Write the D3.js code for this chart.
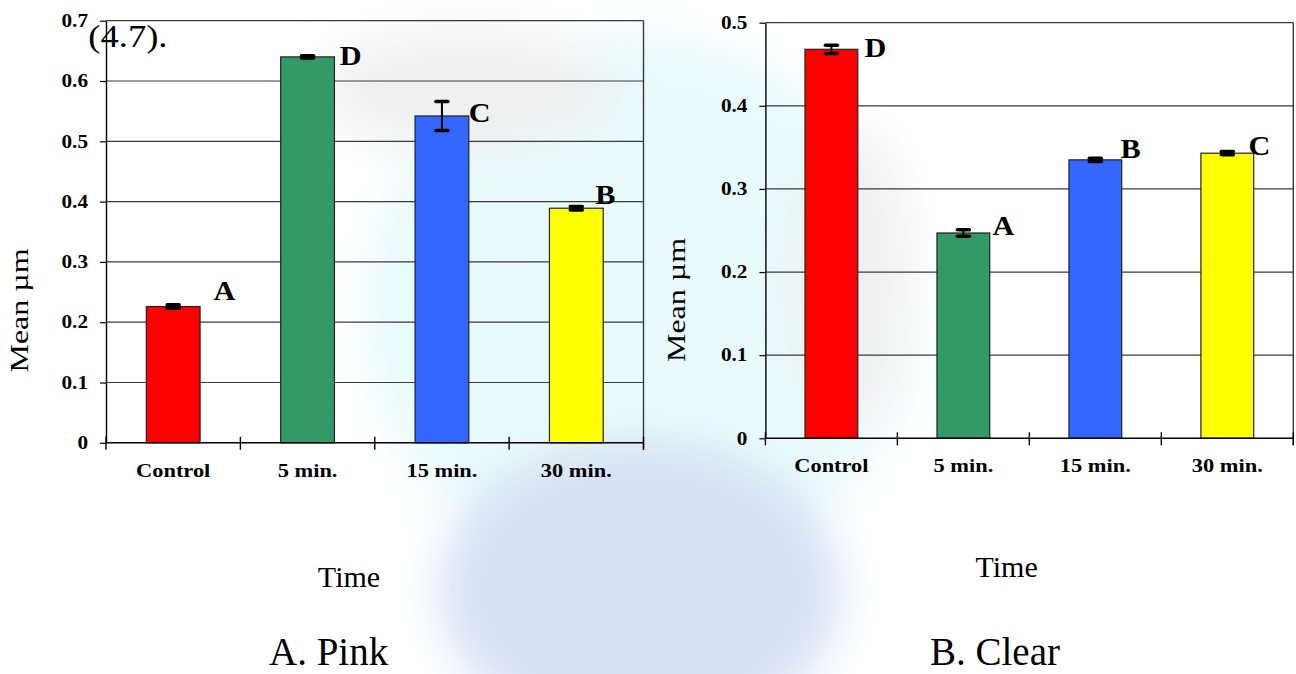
<!DOCTYPE html>
<html>
<head>
<meta charset="utf-8">
<script src="https://cdn.jsdelivr.net/npm/d3@7"></script>
<style>
body { margin: 0; background: #fff; }
svg { display: block; font-family: "Liberation Serif", "Times New Roman", serif; }
</style>
</head>
<body>
<script>
var categories = ["Control", "5 min.", "15 min.", "30 min."];
var barColors = ["#ff0000", "#339966", "#3366ff", "#ffff00"];

// A. Pink
var pinkMeans = [0.226, 0.640, 0.542, 0.389];
var pinkErrors = [0.003, 0.002, 0.024, 0.003];
var pinkLetters = ["A", "D", "C", "B"];
var pinkLetterX = [0.80, 1.74, 2.70, 3.64];   // category units
var pinkLetterY = [0.237, 0.627, 0.532, 0.396];
var pinkTicks = [0, 0.1, 0.2, 0.3, 0.4, 0.5, 0.6, 0.7];

// B. Clear
var clearMeans = [0.468, 0.247, 0.335, 0.343];
var clearErrors = [0.005, 0.004, 0.002, 0.002];
var clearLetters = ["D", "A", "B", "C"];
var clearLetterX = [0.75, 1.72, 2.69, 3.66];
var clearLetterY = [0.459, 0.245, 0.337, 0.341];
var clearTicks = [0, 0.1, 0.2, 0.3, 0.4, 0.5];

var stretch = 1.18;

var svg = d3.select("body").append("svg")
    .attr("width", 1296)
    .attr("height", 674);

// faint watermark behind the charts
var defs = svg.append("defs");
defs.append("filter").attr("id", "soft")
    .attr("x", "-50%").attr("y", "-50%").attr("width", "200%").attr("height", "200%")
    .append("feGaussianBlur").attr("stdDeviation", 22);

var wm = svg.append("g").attr("filter", "url(#soft)");
wm.append("ellipse").attr("cx", 640).attr("cy", 310).attr("rx", 270).attr("ry", 270)
    .attr("fill", "#e8fafb");
wm.append("ellipse").attr("cx", 640).attr("cy", 590).attr("rx", 200).attr("ry", 150)
    .attr("fill", "#d8e0f4");
wm.append("ellipse").attr("cx", 470).attr("cy", 90).attr("rx", 150).attr("ry", 60)
    .attr("fill", "#f0f0f0");
wm.append("ellipse").attr("cx", 850).attr("cy", 280).attr("rx", 60).attr("ry", 150)
    .attr("fill", "#f0f0f0");

function panel(o) {
    var g = svg.append("g");

    var x = d3.scaleBand()
        .domain(categories)
        .range([o.left, o.right])
        .paddingInner(0.6)
        .paddingOuter(0.3);
    var xc = d3.scaleLinear()
        .domain([0, categories.length])
        .range([o.left, o.right]);
    var y = d3.scaleLinear()
        .domain([0, d3.max(o.ticks)])
        .range([o.bottom, o.top]);

    // gridlines
    g.selectAll("line.grid")
        .data(o.ticks.filter(function (d) { return d > 0; }))
        .join("line")
        .attr("class", "grid")
        .attr("x1", o.left)
        .attr("x2", o.right)
        .attr("y1", function (d) { return y(d); })
        .attr("y2", function (d) { return y(d); })
        .attr("stroke", "#3a3a3a")
        .attr("stroke-width", 1.2);

    // right border
    g.append("line")
        .attr("x1", o.right).attr("x2", o.right)
        .attr("y1", o.top).attr("y2", o.bottom + 7)
        .attr("stroke", "#3a3a3a")
        .attr("stroke-width", 1.4);

    // bars
    g.selectAll("rect.bar")
        .data(o.means)
        .join("rect")
        .attr("class", "bar")
        .attr("x", function (d, i) { return x(categories[i]); })
        .attr("y", function (d) { return y(d); })
        .attr("width", x.bandwidth())
        .attr("height", function (d) { return o.bottom - y(d); })
        .attr("fill", function (d, i) { return barColors[i]; })
        .attr("stroke", "#222")
        .attr("stroke-width", 1.2);

    // error bars
    var eb = g.selectAll("g.err")
        .data(o.means)
        .join("g")
        .attr("class", "err")
        .attr("transform", function (d, i) {
            return "translate(" + (x(categories[i]) + x.bandwidth() / 2) + ",0)";
        });
    eb.append("line")
        .attr("y1", function (d, i) { return y(d + o.errors[i]); })
        .attr("y2", function (d, i) { return y(d - o.errors[i]); })
        .attr("stroke", "#000")
        .attr("stroke-width", 2);
    [1, -1].forEach(function (s) {
        eb.append("line")
            .attr("x1", -6).attr("x2", 6)
            .attr("y1", function (d, i) { return y(d + s * o.errors[i]); })
            .attr("y2", function (d, i) { return y(d + s * o.errors[i]); })
            .attr("stroke", "#000")
            .attr("stroke-width", 3.5)
            .attr("stroke-linecap", "round");
    });

    // y axis
    var ya = g.append("g")
        .attr("transform", "translate(" + o.left + ",0)")
        .call(d3.axisLeft(y)
            .tickValues(o.ticks)
            .tickSize(6)
            .tickSizeOuter(0)
            .tickFormat(function (d) { return d === 0 ? "0" : d3.format(".1f")(d); }));
    ya.attr("font-family", null).attr("font-size", null);
    ya.select(".domain").attr("stroke", "#000").attr("stroke-width", 1.4);
    ya.selectAll(".tick line").attr("stroke", "#000").attr("stroke-width", 1.2);
    ya.selectAll(".tick text")
        .attr("x", -18 / stretch)
        .attr("transform", "scale(" + stretch + ",1)")
        .attr("font-size", 18)
        .attr("font-weight", "bold")
        .attr("fill", "#000");

    // x axis line and category ticks
    g.append("line")
        .attr("x1", o.left).attr("x2", o.right)
        .attr("y1", o.bottom).attr("y2", o.bottom)
        .attr("stroke", "#000")
        .attr("stroke-width", 1.4);
    g.selectAll("line.xtick")
        .data(d3.range(categories.length + 1))
        .join("line")
        .attr("class", "xtick")
        .attr("x1", function (d) { return xc(d); })
        .attr("x2", function (d) { return xc(d); })
        .attr("y1", o.bottom - 6)
        .attr("y2", o.bottom + 7)
        .attr("stroke", "#000")
        .attr("stroke-width", 1.4);

    g.selectAll("text.xlab")
        .data(categories)
        .join("text")
        .attr("class", "xlab")
        .attr("transform", function (d) {
            return "translate(" + (x(d) + x.bandwidth() / 2) + "," + o.xLabelBase + ") scale(" + stretch + ",1)";
        })
        .attr("text-anchor", "middle")
        .attr("font-size", 19)
        .attr("font-weight", "bold")
        .text(function (d) { return d; });

    // significance letters
    g.selectAll("text.letter")
        .data(o.letters)
        .join("text")
        .attr("class", "letter")
        .attr("transform", function (d, i) {
            return "translate(" + xc(o.letterX[i]) + "," + y(o.letterY[i]) + ") scale(1.12,1)";
        })
        .attr("font-size", 27)
        .attr("font-weight", "bold")
        .text(function (d) { return d; });

    // axis titles and caption
    g.append("text")
        .attr("transform", "translate(" + o.yTitleX + "," + o.yTitleY + ") scale(0.82,1) rotate(-90)")
        .attr("text-anchor", "middle")
        .attr("font-size", 32)
        .text("Mean \u00b5m");

    g.append("text")
        .attr("x", o.timeX)
        .attr("y", o.timeY)
        .attr("text-anchor", "middle")
        .attr("font-size", 30)
        .text("Time");

    g.append("text")
        .attr("x", o.captionX)
        .attr("y", 665)
        .attr("font-size", 39)
        .text(o.caption);
}

panel({
    left: 106, right: 643.5, top: 20.7, bottom: 442.8,
    ticks: pinkTicks, means: pinkMeans, errors: pinkErrors,
    letters: pinkLetters, letterX: pinkLetterX, letterY: pinkLetterY,
    xLabelBase: 477, yTitleX: 27.5, yTitleY: 310.5,
    timeX: 349, timeY: 587, captionX: 269, caption: "A. Pink"
});

panel({
    left: 765.4, right: 1293.3, top: 22.7, bottom: 438.3,
    ticks: clearTicks, means: clearMeans, errors: clearErrors,
    letters: clearLetters, letterX: clearLetterX, letterY: clearLetterY,
    xLabelBase: 471.7, yTitleX: 684.7, yTitleY: 300,
    timeX: 1006.6, timeY: 577, captionX: 930, caption: "B. Clear"
});

// stray text from the page that overlaps the first chart
svg.append("text")
    .attr("transform", "translate(88.3,47) scale(" + stretch + ",1)")
    .attr("font-size", 31)
    .text("(4.7).");
</script>
</body>
</html>
